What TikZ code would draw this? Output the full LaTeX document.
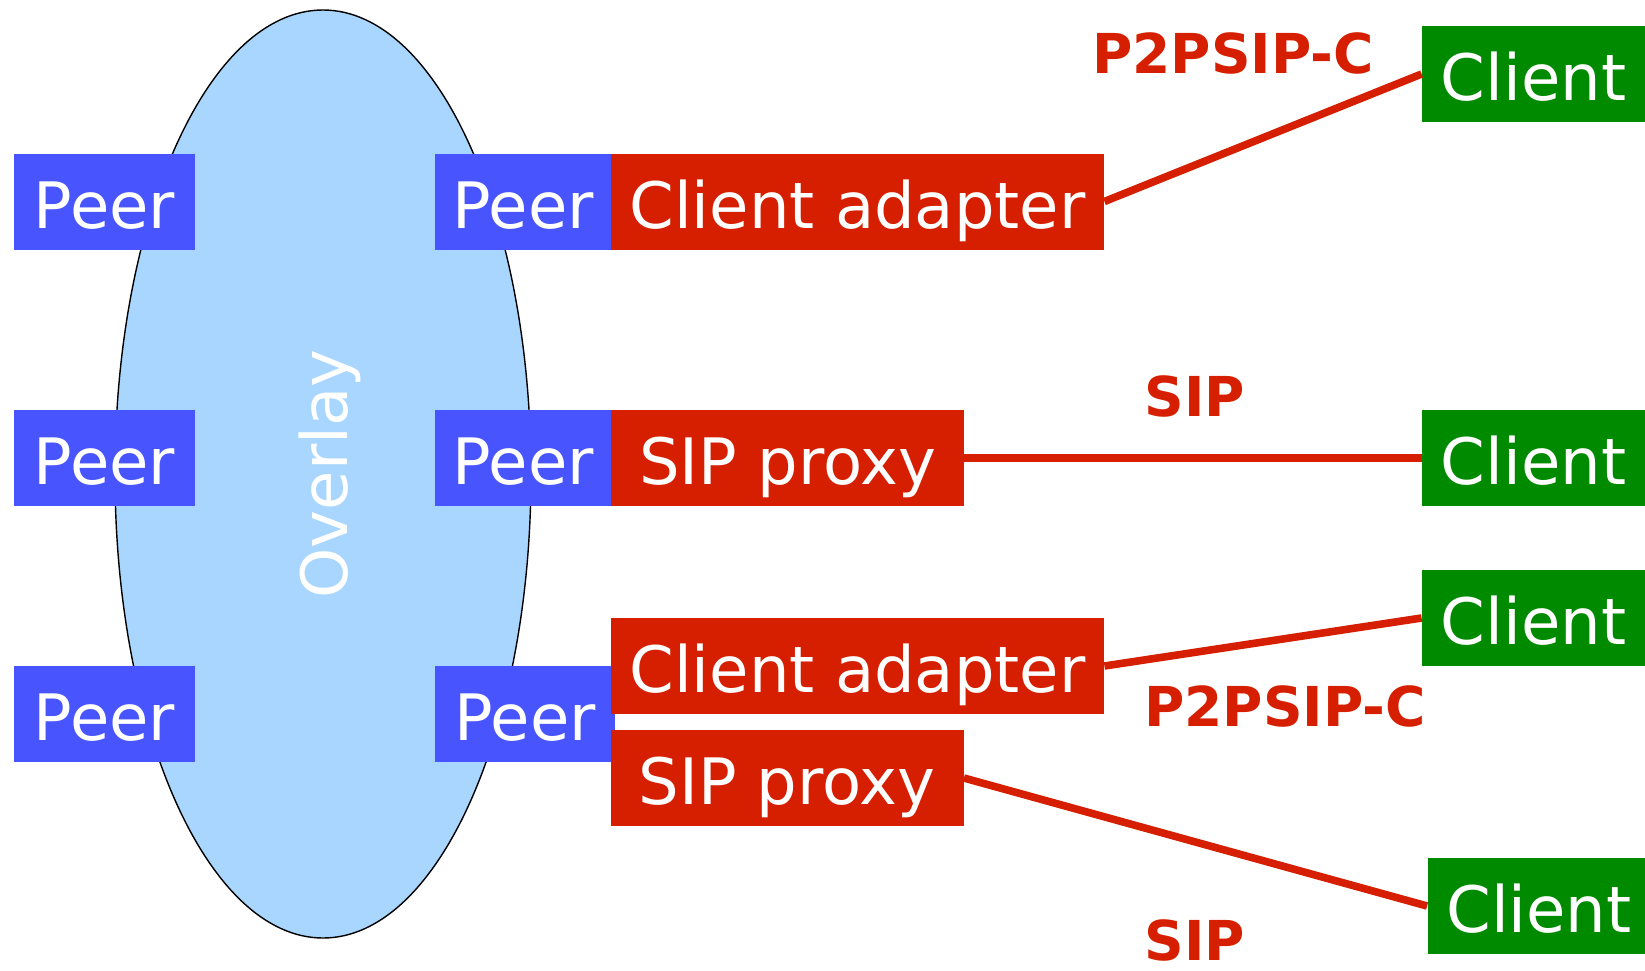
\documentclass[tikz,border=0pt]{standalone}
\usepackage{fontspec}
\setmainfont{DejaVu Sans}
\definecolor{peerblue}{RGB}{72,85,255}
\definecolor{sipred}{RGB}{214,31,0}
\definecolor{clientgreen}{RGB}{0,138,0}
\definecolor{overlayblue}{RGB}{168,214,255}

\begin{document}
\begin{tikzpicture}[x=0.5pt,y=-0.5pt,
    box/.style={inner sep=0pt, minimum height=48pt, text=white,
      font=\fontsize{32}{36}\selectfont, text height=31.5pt, text depth=5pt},
    peer/.style={box, fill=peerblue, minimum width=88pt},
    adapter/.style={box, fill=sipred, minimum width=246.5pt},
    proxy/.style={box, fill=sipred, minimum width=176.5pt},
    client/.style={box, fill=clientgreen, minimum width=111.5pt},
    link/.style={sipred, line width=3.8pt},
    proto/.style={text=sipred, inner sep=0pt, font=\fontsize{27.5}{32}\selectfont\bfseries}]
    \useasboundingbox (0,0) rectangle (1645,970);
    \draw[fill=overlayblue, line width=0.7pt] (323,474) ellipse [x radius=208, y radius=464];
    \node[rotate=90, text=white, font=\fontsize{32}{36}\selectfont] (overlay) at (330,474) {Overlay};
    \node[peer, minimum width=90.5pt] (peerL1) at (104.5,201.5) {Peer};
    \node[peer, minimum width=90.5pt] (peerL2) at (104.5,458) {Peer};
    \node[peer, minimum width=90.5pt] (peerL3) at (104.5,714) {Peer};
    \node[peer] (peerR1) at (523,201.5) {Peer};
    \node[peer] (peerR2) at (523,458) {Peer};
    \node[peer, minimum width=90pt] (peerR3) at (525,714) {Peer};
    \node[adapter] (adapter1) at (857.5,201.5) {Client adapter};
    \node[proxy] (proxy1) at (787.5,458) {SIP proxy};
    \node[adapter] (adapter2) at (857.5,666) {Client adapter};
    \node[proxy] (proxy2) at (787,778) {SIP proxy};
    \node[client] (client1) at (1533.5,74) {Client};
    \node[client] (client2) at (1533.5,458) {Client};
    \node[client] (client3) at (1533.5,618) {Client};
    \node[client] (client4) at (1539,906) {Client};
    \draw[link] (adapter1.east) -- (client1.west);
    \draw[link] (proxy1.east) -- (client2.west);
    \draw[link] (adapter2.east) -- (client3.west);
    \draw[link] (proxy2.east) -- (client4.west);
    \node[proto] (p2pA) at (1233,53) {P2PSIP-C};
    \node[proto] (sipA) at (1195,396) {SIP};
    \node[proto] (p2pB) at (1285,706) {P2PSIP-C};
    \node[proto] (sipB) at (1195,940) {SIP};
\end{tikzpicture}
\end{document}
